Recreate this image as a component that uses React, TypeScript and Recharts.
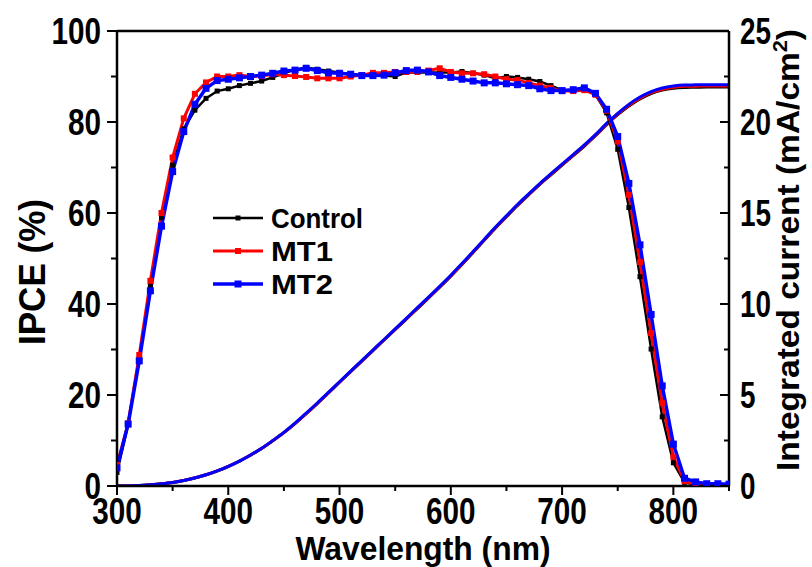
import React from "react";
import {
  ComposedChart,
  Line,
  XAxis,
  YAxis,
  Legend,
  ReferenceLine,
} from "recharts";

const wavelengths = [
  300, 310, 320, 330, 340, 350, 360, 370, 380, 390, 400, 410, 420, 430, 440, 450, 460, 470, 480, 490,
  500, 510, 520, 530, 540, 550, 560, 570, 580, 590, 600, 610, 620, 630, 640, 650, 660, 670, 680, 690,
  700, 710, 720, 730, 740, 750, 760, 770, 780, 790, 800, 810, 820, 830, 840, 850,
];

const ipceControl = [
  3.0, 13.5, 28.0, 44.0, 59.0, 70.5, 78.5, 82.6, 85.2, 86.8, 87.3, 88.0, 88.5, 89.0, 89.8, 90.7, 91.5, 92.0, 91.6, 91.2,
  90.9, 90.5, 90.3, 90.2, 90.2, 90.0, 90.9, 90.9, 90.9, 90.9, 90.9, 91.1, 90.7, 90.3, 89.6, 90.0, 89.8, 89.4, 88.9, 88.0,
  87.0, 87.0, 87.5, 86.0, 82.0, 74.0, 61.2, 46.0, 30.1, 15.2, 5.1, 0.8, 0.3, 0.2, 0.2, 0.2,
];

const ipceMT1 = [
  4.6, 13.8, 28.8, 45.1, 60.0, 72.2, 80.8, 86.2, 88.7, 90.0, 90.0, 90.3, 90.0, 90.1, 90.5, 90.3, 90.1, 89.9, 89.6, 89.6,
  89.6, 90.0, 90.3, 90.8, 90.8, 91.0, 91.0, 91.0, 91.3, 91.8, 91.0, 90.7, 90.7, 90.5, 90.0, 89.4, 89.2, 88.6, 88.0, 87.5,
  86.8, 86.8, 87.0, 86.0, 82.5, 75.7, 64.0, 49.2, 33.6, 18.2, 6.4, 1.1, 0.4, 0.3, 0.3, 0.2,
];

const ipceMT2 = [
  4.0, 13.6, 27.5, 42.9, 57.1, 69.1, 77.9, 83.9, 87.4, 89.1, 89.4, 89.7, 90.0, 90.3, 90.7, 91.2, 91.4, 91.8, 91.3, 90.8,
  90.7, 90.5, 90.2, 90.2, 90.3, 90.8, 91.3, 91.4, 91.0, 90.2, 89.8, 89.4, 89.0, 88.6, 88.6, 88.4, 88.2, 88.0, 87.3, 86.9,
  86.9, 87.1, 87.5, 86.3, 82.8, 76.8, 66.5, 53.0, 37.7, 22.0, 9.2, 1.7, 0.9, 0.5, 0.5, 0.4,
];

// integrated current, mA/cm2
const jControl = [
  0, 0.005, 0.03, 0.07, 0.12, 0.19, 0.3, 0.44, 0.61, 0.82, 1.07, 1.36, 1.69, 2.06, 2.48, 2.93, 3.43, 3.97, 4.53, 5.11,
  5.7, 6.28, 6.86, 7.44, 8.02, 8.6, 9.17, 9.75, 10.33, 10.92, 11.53, 12.17, 12.83, 13.5, 14.17, 14.8, 15.42, 16.0, 16.57, 17.1,
  17.63, 18.15, 18.68, 19.25, 19.85, 20.4, 20.88, 21.27, 21.56, 21.75, 21.86, 21.9, 21.91, 21.92, 21.92, 21.92,
];

const jMT1 = [
  0, 0.006, 0.03, 0.07, 0.12, 0.19, 0.3, 0.45, 0.62, 0.83, 1.08, 1.37, 1.7, 2.07, 2.49, 2.94, 3.44, 3.98, 4.54, 5.12,
  5.71, 6.29, 6.87, 7.45, 8.03, 8.61, 9.19, 9.77, 10.35, 10.94, 11.55, 12.19, 12.85, 13.52, 14.19, 14.82, 15.44, 16.02, 16.59, 17.13,
  17.66, 18.18, 18.71, 19.28, 19.88, 20.44, 20.92, 21.31, 21.61, 21.8, 21.91, 21.96, 21.97, 21.98, 21.98, 21.98,
];

const jMT2 = [
  0, 0.006, 0.03, 0.07, 0.12, 0.19, 0.3, 0.45, 0.62, 0.83, 1.08, 1.37, 1.7, 2.07, 2.5, 2.95, 3.45, 4.0, 4.56, 5.14,
  5.73, 6.31, 6.89, 7.47, 8.05, 8.63, 9.21, 9.8, 10.38, 10.97, 11.58, 12.22, 12.88, 13.55, 14.22, 14.85, 15.47, 16.05, 16.62, 17.16,
  17.69, 18.21, 18.74, 19.31, 19.92, 20.48, 20.97, 21.37, 21.67, 21.87, 21.98, 22.03, 22.04, 22.05, 22.05, 22.05,
];

const xTicks = [300, 350, 400, 450, 500, 550, 600, 650, 700, 750, 800, 850];
const ipceTicks = [0, 10, 20, 30, 40, 50, 60, 70, 80, 90, 100];
const jTicks = [0, 2.5, 5, 7.5, 10, 12.5, 15, 17.5, 20, 22.5, 25];

const series = [
  { name: "Control", ipce: "control", j: "jControl", color: "#000000", width: 2.5, box: 5 },
  { name: "MT1", ipce: "mt1", j: "jMT1", color: "#ff0000", width: 3, box: 6 },
  { name: "MT2", ipce: "mt2", j: "jMT2", color: "#0000ff", width: 3.5, box: 7 },
];

const rows = wavelengths.map((wl, i) => ({
  wl,
  control: ipceControl[i],
  mt1: ipceMT1[i],
  mt2: ipceMT2[i],
  jControl: jControl[i],
  jMT1: jMT1[i],
  jMT2: jMT2[i],
}));

const FONT = "'Liberation Sans', Arial, sans-serif";
const TICK_FONT = 36;
const DIGIT_W = 16.5;

function BottomTick(props: any) {
  const { x, y, payload } = props;
  const v = payload.value;
  const major = v % 100 === 0;
  const s = String(v);
  return (
    <g>
      <line x1={x} x2={x} y1={y} y2={y + (major ? 9 : 5)} stroke="#000" strokeWidth={2} />
      {major ? (
        <text
          x={x}
          y={y + 38}
          textAnchor="middle"
          fontFamily={FONT}
          fontWeight="bold"
          fontSize={TICK_FONT}
          textLength={s.length * DIGIT_W}
          lengthAdjust="spacingAndGlyphs"
          fill="#000"
        >
          {s}
        </text>
      ) : null}
    </g>
  );
}

function LeftTick(props: any) {
  const { x, y, payload } = props;
  const v = payload.value;
  const major = v % 20 === 0;
  const s = String(v);
  return (
    <g>
      <line x1={x} x2={x - (major ? 10 : 6)} y1={y} y2={y} stroke="#000" strokeWidth={2} />
      {major ? (
        <text
          x={x - 16}
          y={y + 13}
          textAnchor="end"
          fontFamily={FONT}
          fontWeight="bold"
          fontSize={TICK_FONT}
          textLength={s.length * DIGIT_W}
          lengthAdjust="spacingAndGlyphs"
          fill="#000"
        >
          {s}
        </text>
      ) : null}
    </g>
  );
}

function RightTick(props: any) {
  const { x, y, payload } = props;
  const v = payload.value;
  const major = v % 5 === 0;
  const s = String(v);
  return (
    <g>
      <line x1={x} x2={x - (major ? 9 : 5)} y1={y} y2={y} stroke="#000" strokeWidth={2} />
      {major ? (
        <text
          x={x + 11}
          y={y + 13}
          textAnchor="start"
          fontFamily={FONT}
          fontWeight="bold"
          fontSize={TICK_FONT}
          textLength={s.length * 15.5}
          lengthAdjust="spacingAndGlyphs"
          fill="#000"
        >
          {s}
        </text>
      ) : null}
    </g>
  );
}

function squareDot(color: string, size: number) {
  return (p: any) => {
    const { cx, cy, index } = p;
    if (cx == null || cy == null) return <g key={index} />;
    return <rect key={index} x={cx - size / 2} y={cy - size / 2} width={size} height={size} fill={color} />;
  };
}

function LegendBox() {
  return (
    <svg width={170} height={110}>
      {series.map((s, i) => {
        const cy = 18 + i * 33;
        return (
          <g key={s.name}>
            <line x1={6} x2={56} y1={cy} y2={cy} stroke={s.color} strokeWidth={s.width} />
            <rect x={31 - s.box / 2} y={cy - s.box / 2} width={s.box} height={s.box} fill={s.color} />
            <text
              x={64}
              y={cy + 10}
              fontFamily={FONT}
              fontWeight="bold"
              fontSize={28}
              textLength={s.name === "Control" ? 92 : 62}
              lengthAdjust="spacingAndGlyphs"
              fill="#000"
            >
              {s.name}
            </text>
          </g>
        );
      })}
    </svg>
  );
}

export default function App() {
  return (
    <div style={{ position: "absolute", left: 0, top: 0, width: 812, height: 567, background: "#fff" }}>
      <ComposedChart width={812} height={567} data={rows} margin={{ top: 31, right: 0, bottom: 0, left: 0 }}>
        <XAxis
          dataKey="wl"
          type="number"
          domain={[300, 850]}
          ticks={xTicks}
          interval={0}
          height={81}
          tickSize={0}
          tickMargin={0}
          tickLine={false}
          tick={<BottomTick />}
          axisLine={{ stroke: "#000", strokeWidth: 2.5 }}
          allowDataOverflow
          label={{
            content: () => (
              <text
                x={423}
                y={560}
                textAnchor="middle"
                fontFamily={FONT}
                fontWeight="bold"
                fontSize={34}
                textLength={255}
                lengthAdjust="spacingAndGlyphs"
                fill="#000"
              >
                Wavelength (nm)
              </text>
            ),
          }}
        />
        <YAxis
          yAxisId="ipce"
          domain={[0, 100]}
          ticks={ipceTicks}
          interval={0}
          width={117}
          tickSize={0}
          tickMargin={0}
          tickLine={false}
          tick={<LeftTick />}
          axisLine={{ stroke: "#000", strokeWidth: 2.5 }}
          allowDataOverflow
          label={{
            content: () => (
              <text
                x={0}
                y={0}
                transform="translate(45,272) rotate(-90)"
                textAnchor="middle"
                fontFamily={FONT}
                fontWeight="bold"
                fontSize={37}
                textLength={146}
                lengthAdjust="spacingAndGlyphs"
                fill="#000"
              >
                IPCE (%)
              </text>
            ),
          }}
        />
        <YAxis
          yAxisId="j"
          orientation="right"
          domain={[0, 25]}
          ticks={jTicks}
          interval={0}
          width={83}
          tickSize={0}
          tickMargin={0}
          tickLine={false}
          tick={<RightTick />}
          axisLine={{ stroke: "#000", strokeWidth: 2.5 }}
          allowDataOverflow
          label={{
            content: () => (
              <text
                x={0}
                y={0}
                transform="translate(799,250) rotate(-90)"
                textAnchor="middle"
                fontFamily={FONT}
                fontWeight="bold"
                fontSize={31}
                textLength={442}
                lengthAdjust="spacingAndGlyphs"
                fill="#000"
              >
                Integrated current (mA/cm
                <tspan fontSize={20} dy={-12}>2</tspan>
                <tspan dy={12}>)</tspan>
              </text>
            ),
          }}
        />
        <ReferenceLine yAxisId="ipce" y={100} stroke="#000" strokeWidth={2.5} />
        <Legend
          layout="horizontal"
          verticalAlign="middle"
          align="center"
          content={() => <LegendBox />}
          wrapperStyle={{ position: "absolute", left: 207, top: 200, width: 170, height: 110 }}
        />
        {series.map((s) => (
          <Line
            key={s.j}
            yAxisId="j"
            dataKey={s.j}
            type="monotone"
            stroke={s.color}
            strokeWidth={3}
            dot={false}
            legendType="none"
            isAnimationActive={false}
          />
        ))}
        {series.map((s) => (
          <Line
            key={s.ipce}
            yAxisId="ipce"
            dataKey={s.ipce}
            name={s.name}
            type="linear"
            stroke={s.color}
            strokeWidth={s.width}
            dot={squareDot(s.color, s.box)}
            isAnimationActive={false}
          />
        ))}
      </ComposedChart>
    </div>
  );
}
